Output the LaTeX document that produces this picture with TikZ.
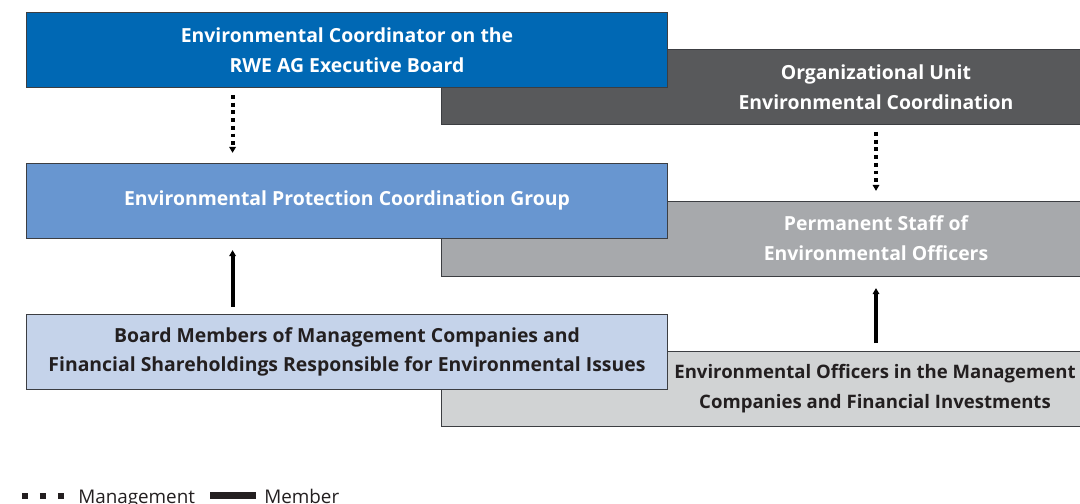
\documentclass[tikz,border=0pt]{standalone}
\usepackage{fontspec}
\setmainfont{Open Sans}
\usetikzlibrary{arrows.meta, positioning}
\definecolor{rweblue}{RGB}{0,104,180}
\definecolor{unitgray}{RGB}{88,89,91}
\definecolor{groupblue}{RGB}{104,150,208}
\definecolor{staffgray}{RGB}{167,169,172}
\definecolor{memberblue}{RGB}{197,211,234}
\definecolor{officergray}{RGB}{209,211,212}
\definecolor{boxline}{RGB}{60,62,66}
\definecolor{darktext}{RGB}{35,31,32}

\begin{document}
\begin{tikzpicture}[
    x=0.025cm, y=-0.025cm,
    panel/.style={rectangle, draw=boxline, line width=0.6pt, anchor=north west,
                  minimum width=16.025cm, minimum height=1.875cm, inner sep=0pt,
                  align=center, font=\bfseries\fontsize{13.8}{21.3}\selectfont},
    paneltext/.style={align=center, inner sep=0pt, font=\bfseries\fontsize{13.8}{21.3}\selectfont},
    mgmt/.style={line width=2.8pt, dash pattern=on 2.8pt off 2.7pt,
                 -{Triangle[width=4.6pt, length=4.2pt, sep=1.6pt]}},
    member/.style={line width=2.8pt,
                   -{Triangle[width=4.6pt, length=4.2pt, sep=3pt]}},
    legendtext/.style={anchor=base west, inner sep=0pt, text=darktext,
                       font=\fontsize{13.4}{16}\selectfont}
]
    \useasboundingbox (0,0) rectangle (1080,504);

    % Right column (behind)
    \node[panel, fill=unitgray, minimum width=16.2cm] (unit) at (441,49) {};
    \node[panel, fill=staffgray, minimum width=16.2cm] (staff) at (441,201) {};
    \node[panel, fill=officergray, minimum width=16.2cm] (officers) at (441,351) {};

    % Left column (front)
    \node[panel, fill=rweblue, text=white] (coord) at (26,12)
        {Environmental Coordinator on the\\RWE AG Executive Board};
    \node[panel, fill=groupblue, text=white] (group) at (26,163)
        {Environmental Protection Coordination Group};
    \node[panel, fill=memberblue, text=darktext] (boards) at (26,314)
        {Board Members of Management Companies and\\Financial Shareholdings Responsible for Environmental Issues};

    % Texts of the right column
    \node[paneltext, text=white] (unittext) at (876,87)
        {Organizational Unit\\Environmental Coordination};
    \node[paneltext, text=white] (stafftext) at (876,238)
        {Permanent Staff of\\Environmental Officers};
    \node[paneltext, text=darktext, font=\bfseries\fontsize{13.2}{21.3}\selectfont]
        (officerstext) at (875,389)
        {Environmental Officers in the Management\\Companies and Financial Investments};

    % Arrows
    \draw[mgmt, shorten <=5.0pt, shorten >=5.6pt]
        ([xshift=-2.86cm]coord.south) -- ([xshift=-2.86cm]group.north);
    \draw[mgmt, shorten <=5.0pt, shorten >=5.6pt]
        (unit.south -| unittext) -- (staff.north -| unittext);
    \draw[member, shorten <=5.0pt, shorten >=5.0pt]
        ([xshift=-2.86cm]boards.north) -- ([xshift=-2.86cm]group.south);
    \draw[member, shorten <=5.6pt, shorten >=5.0pt]
        (officers.north -| unittext) -- (stafftext.south |- staff.south);

    % Legend
    \coordinate (mgmtstart) at (22,496);
    \coordinate (mgmtend) at (65,496);
    \draw[line width=4.3pt, dash pattern=on 4.3pt off 8.5pt, darktext] (mgmtstart) -- (mgmtend);
    \node[legendtext] (mgmtlabel) at (78,503) {Management};
    \coordinate (memberstart) at (210,495.7);
    \coordinate (memberend) at (255.5,495.7);
    \draw[line width=5pt, darktext] (memberstart) -- (memberend);
    \node[legendtext] (memberlabel) at (264,503) {Member};
\end{tikzpicture}
\end{document}
